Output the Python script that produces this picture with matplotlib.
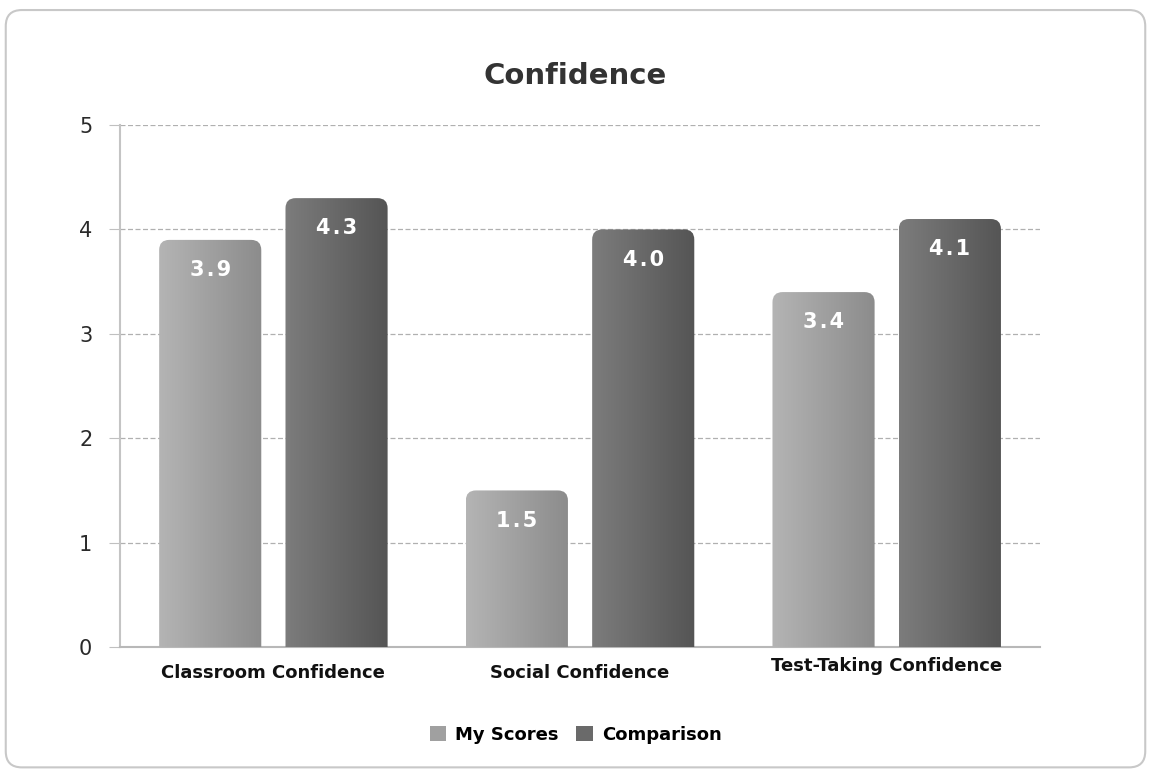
import numpy as np
import matplotlib
matplotlib.use("Agg")
import matplotlib.pyplot as plt
import matplotlib.transforms as mtransforms
from matplotlib.patches import FancyBboxPatch, Patch

categories = ["Classroom Confidence", "Social Confidence", "Test-Taking Confidence"]
my_scores = [3.9, 1.5, 3.4]
comparison = [4.3, 4.0, 4.1]
series_names = ["My Scores", "Comparison"]
yticks = [0, 1, 2, 3, 4, 5]

plt.rcParams["font.family"] = ["DejaVu Sans"]

fig = plt.figure(figsize=(11.51, 7.72), dpi=100)
fig.patch.set_facecolor("white")

# rounded frame around the whole chart
frame = FancyBboxPatch((0.005, 0.006), 0.99, 0.981, boxstyle="round,pad=0,rounding_size=0.014",
                       transform=fig.transFigure, facecolor="white", edgecolor="#c8c8c8",
                       linewidth=1.5, mutation_aspect=1151 / 772, zorder=-10)
fig.patches.append(frame)

ax = fig.add_axes([0.1043, 0.1619, 0.7993, 0.6761])
ax.set_facecolor("none")

x = np.arange(len(categories))
w = 0.333
off = 0.206

grads = [("#b4b4b4", "#8c8c8c"), ("#7c7c7c", "#555555")]


def hex2rgb(h):
    return np.array([int(h[i:i + 2], 16) for i in (1, 3, 5)]) / 255.0


def grad_bar(xc, h, c1, c2):
    left = xc - w / 2
    r = 0.033
    patch = FancyBboxPatch((left, -0.3), w, h + 0.3, boxstyle="round,pad=0,rounding_size=%g" % r,
                           mutation_aspect=2.94, facecolor="none", edgecolor="none")
    ax.add_patch(patch)
    t = np.linspace(0, 1, 64)
    a, b = hex2rgb(c1), hex2rgb(c2)
    img = (a[None, :] * (1 - t[:, None]) + b[None, :] * t[:, None])[None, :, :]
    im = ax.imshow(img, extent=[left, left + w, 0, h], aspect="auto", interpolation="bilinear", zorder=3)
    im.set_clip_path(patch)
    lbl = "\u200a".join("%.1f" % h)
    ax.text(xc, h - 0.29, lbl, ha="center", va="center", color="white",
            fontsize=15, fontweight="bold", zorder=4)


for i, vals in enumerate([my_scores, comparison]):
    for j, v in enumerate(vals):
        grad_bar(x[j] + (-off if i == 0 else off), v, *grads[i])

ax.set_xlim(-0.5, len(categories) - 0.5)
ax.set_ylim(0, 5)
ax.set_yticks(yticks)
ax.set_yticklabels([str(v) for v in yticks], fontsize=15, color="#2a2a2a")
ax.set_xticks(x)
ax.set_xticklabels(categories, fontsize=13, fontweight="bold", color="#111111")
ax.tick_params(axis="x", length=0, pad=12)
ax.tick_params(axis="y", length=8, color="#c0c0c0", pad=12)
lab = ax.get_xticklabels()[2]
lab.set_transform(lab.get_transform() + mtransforms.ScaledTranslation(0, 5 / 72, fig.dpi_scale_trans))
ax.grid(axis="y", linestyle="--", color="#b0b0b0", linewidth=0.9, dashes=(4, 2))
ax.set_axisbelow(True)
for s in ["top", "right"]:
    ax.spines[s].set_visible(False)
ax.spines["left"].set_color("#c4c4c4")
ax.spines["left"].set_linewidth(1.5)
ax.spines["bottom"].set_color("#b8b8b8")
ax.spines["bottom"].set_linewidth(1.5)

fig.text(0.5, 0.902, "Confidence", ha="center", va="center", fontsize=21, fontweight="bold", color="#333333")

handles = [Patch(facecolor="#a0a0a0", edgecolor="none"), Patch(facecolor="#6a6a6a", edgecolor="none")]
fig.legend(handles, series_names, loc="center", bbox_to_anchor=(0.5, 0.048), ncol=2, frameon=False,
           prop={"size": 13, "weight": "bold"}, handlelength=0.9, handleheight=0.9,
           handletextpad=0.5, columnspacing=1.0)

fig.savefig("out.png", dpi=100)
